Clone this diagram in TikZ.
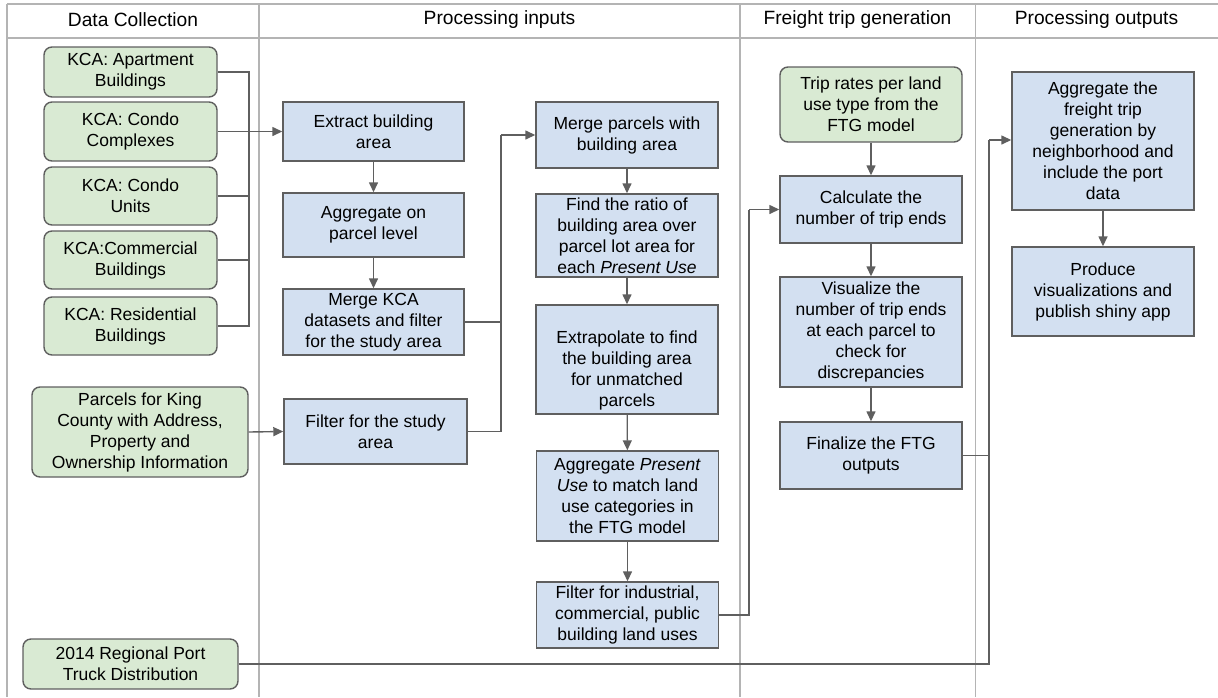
\documentclass[tikz,border=0pt]{standalone}
\usepackage{fontspec}
\setmainfont{Liberation Sans}
\usetikzlibrary{arrows.meta}
\definecolor{gfill}{HTML}{D9EAD3}
\definecolor{bfill}{HTML}{D3E0F1}
\definecolor{edge}{HTML}{5F5F5F}
\definecolor{grid}{HTML}{B4B4B4}
\tikzset{
  box/.style={draw=edge, line width=1.4pt, align=center, inner sep=0pt,
    font=\fontsize{17.5}{21}\selectfont, text=black},
  greenbox/.style={box, fill=gfill, rounded corners=8pt},
  bluebox/.style={box, fill=bfill},
  conn/.style={draw=edge, line width=1.4pt},
  arr/.style={conn, -{Triangle[length=10pt,width=9pt]}},
  gridline/.style={draw=grid, line width=1.6pt},
  hdr/.style={font=\fontsize{19.2}{22}\selectfont, text=black, inner sep=0pt}
}
\begin{document}
\begin{tikzpicture}[x=1pt,y=-1pt]
\useasboundingbox (0,0) rectangle (1218,697);
% grid
\draw[gridline] (7,4) -- (1218,4);
\draw[gridline] (7,38) -- (1218,38);
\draw[gridline] (7,4) -- (7,697);
\draw[gridline] (259,4) -- (259,697);
\draw[gridline] (740,4) -- (740,697);
\draw[gridline] (975.5,4) -- (975.5,697);
% headers
\node[hdr] (h1) at (133,20) {Data Collection};
\node[hdr] (h2) at (499.5,20) {Processing inputs};
\node[hdr] (h3) at (857.5,20) {Freight trip generation};
\node[hdr] (h4) at (1096.5,20) {Processing outputs};
% green nodes
\node[greenbox, minimum width=173pt, minimum height=50pt] (apt) at (130.5,72) {KCA: Apartment\\Buildings};
\node[greenbox, minimum width=173pt, minimum height=59pt] (cplx) at (130.5,131.5) {KCA: Condo\\Complexes};
\node[greenbox, minimum width=173pt, minimum height=58pt] (units) at (130.5,196) {KCA: Condo\\Units};
\node[greenbox, minimum width=173pt, minimum height=58pt] (comm) at (130.5,260) {KCA:Commercial\\Buildings};
\node[greenbox, minimum width=173pt, minimum height=58pt] (res) at (130.5,326) {KCA: Residential\\Buildings};
\node[greenbox, minimum width=216pt, minimum height=90pt] (parcels) at (140,432) {Parcels for King\\County with Address,\\Property and\\Ownership Information};
\node[greenbox, minimum width=215pt, minimum height=50pt] (port) at (130.5,664) {2014 Regional Port\\Truck Distribution};
\node[greenbox, minimum width=182pt, minimum height=75pt] (trip) at (871,104.5) {Trip rates per land\\use type from the\\FTG model};
% blue nodes
\node[bluebox, minimum width=181pt, minimum height=59pt] (extract) at (373.5,131.5) {Extract building\\area};
\node[bluebox, minimum width=181pt, minimum height=64pt] (aggparcel) at (373.5,225) {Aggregate on\\parcel level};
\node[bluebox, minimum width=181pt, minimum height=66pt] (mergekca) at (373.5,322) {Merge KCA\\datasets and filter\\for the study area};
\node[bluebox, minimum width=183pt, minimum height=65pt] (filterstudy) at (375.5,431.5) {Filter for the study\\area};
\node[bluebox, minimum width=182pt, minimum height=66pt] (mergeparcels) at (627,135) {Merge parcels with\\building area};
\node[bluebox, minimum width=182pt, minimum height=83pt] (ratio) at (627,235.5) {Find the ratio of\\building area over\\parcel lot area for\\each \textit{Present Use}};
\node[bluebox, minimum width=182pt, minimum height=109pt] (extrap) at (627,359.5) {\rule{0pt}{13pt}\\Extrapolate to find\\the building area\\for unmatched\\parcels};
\node[bluebox, minimum width=182pt, minimum height=90pt] (aggpresent) at (627.5,496) {Aggregate \textit{Present}\\\textit{Use} to match land\\use categories in\\the FTG model};
\node[bluebox, minimum width=182pt, minimum height=66pt] (filterind) at (627.5,615) {Filter for industrial,\\commercial, public\\building land uses};
\node[bluebox, minimum width=182pt, minimum height=67pt] (calc) at (871,209.5) {Calculate the\\number of trip ends};
\node[bluebox, minimum width=182pt, minimum height=110pt] (visual) at (871,332) {Visualize the\\number of trip ends\\at each parcel to\\check for\\discrepancies};
\node[bluebox, minimum width=182pt, minimum height=67pt] (finalize) at (871,455.5) {Finalize the FTG\\outputs};
\node[bluebox, minimum width=182pt, minimum height=138pt] (aggfreight) at (1103,141) {Aggregate the\\freight trip\\generation by\\neighborhood and\\include the port\\data};
\node[bluebox, minimum width=182pt, minimum height=89pt] (produce) at (1103,291.5) {Produce\\visualizations and\\publish shiny app};
% junction coordinates
\coordinate (j1top) at (249,72);
\coordinate (j1bot) at (249,326);
\coordinate (j2top) at (501,135);
\coordinate (j2bot) at (501,431.5);
\coordinate (j3top) at (749,209.5);
\coordinate (j3bot) at (749,615);
\coordinate (j4top) at (989,140);
\coordinate (j4bot) at (989,664);
% connectors: KCA bracket
\draw[conn] (apt.east) -- (j1top) -- (j1bot) -- (res.east);
\draw[conn] (units.east) -- (units.east -| j1top);
\draw[conn] (comm.east) -- (comm.east -| j1top);
\draw[arr] (cplx.east) -- (extract.west);
\draw[arr] (extract) -- (aggparcel);
\draw[arr] (aggparcel) -- (mergekca);
\draw[arr] (parcels.east) -- (filterstudy.west);
% to merge parcels
\draw[conn] (filterstudy.east) -- (j2bot) -- (j2top);
\draw[conn] (mergekca.east) -- (mergekca.east -| j2top);
\draw[arr] (j2top) -- (mergeparcels.west);
\draw[arr] (mergeparcels) -- (ratio);
\draw[arr] (ratio) -- (extrap);
\draw[arr] (extrap) -- (aggpresent);
\draw[arr] (aggpresent) -- (filterind);
% to calc
\draw[conn] (filterind.east) -- (j3bot) -- (j3top);
\draw[arr] (j3top) -- (calc.west);
\draw[arr] (trip) -- (calc);
\draw[arr] (calc) -- (visual);
\draw[arr] (visual) -- (finalize);
% to outputs
\draw[conn] (port.east) -- (j4bot) -- (j4top);
\draw[conn] (finalize.east) -- (finalize.east -| j4top);
\draw[arr] (j4top) -- (aggfreight.west |- j4top);
\draw[arr] (aggfreight) -- (produce);
\end{tikzpicture}
\end{document}
